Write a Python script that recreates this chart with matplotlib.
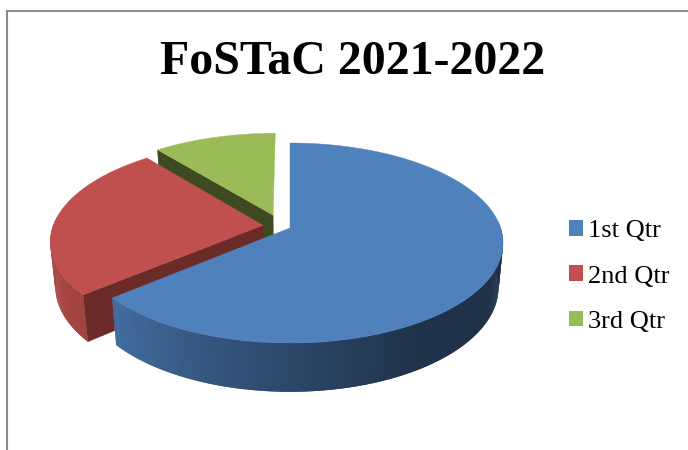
"""
FoSTaC 2021-2022 exploded 3D pie, drawn with patches through a small
perspective projection of the pie disc.
"""

import numpy as np
import matplotlib
matplotlib.use("Agg")
import matplotlib.pyplot as plt
from matplotlib.patches import Polygon, Rectangle

plt.rcParams["font.family"] = ["Liberation Serif", "DejaVu Serif"]

# Data
title = "FoSTaC 2021-2022"
categories = ["1st Qtr", "2nd Qtr", "3rd Qtr"]
values = [63.8, 25.3, 10.9]

# Styles
top_colors = ["#4f81bd", "#c0504d", "#9bbb59"]
cut_colors = ["#27405f", "#6b2b29", "#404a22"]
explode = [0.045, 0.088, 0.122]

# Projection of the disc: pixel anchor, scales, perspective
ANCHOR_X, ANCHOR_Y = 290, 228
SCALE_X, SCALE_Y = 210.6, 97.75
TILT, DEPTH_W, DEPTH_Y = 0.15, 0.021, 44.9


def project(u, v, z=0.0):
    """Disc coordinates (radius 1), z=0 top face, z=1 bottom face -> pixels."""
    w = 1 + TILT * v + DEPTH_W * z
    return ANCHOR_X + SCALE_X * u / w, ANCHOR_Y - (SCALE_Y * v - DEPTH_Y * z) / w


def wall_shade(angle):
    """Brightness of the outer wall by clockwise angle from 12 o'clock."""
    return np.interp(angle, [90, 150, 180, 230, 280], [0.36, 0.40, 0.55, 0.85, 0.92])


def add_poly(ax, xs, ys, color, lw=0.0):
    ax.add_patch(Polygon(np.column_stack([xs, ys]), closed=True, facecolor=color,
                         edgecolor=color, linewidth=lw))


def draw_slice(ax, start, end, ox, oy, top, cut):
    angles = np.linspace(start, end, int(end - start) * 2 + 2)
    rad = np.radians(angles)
    u, v = ox + np.sin(rad), oy + np.cos(rad)
    tx, ty = project(u, v)
    bx, by = project(u, v, 1)

    # outer wall, front half only; quads overlap the next step to hide seams
    base = np.array(matplotlib.colors.to_rgb(top))
    for i in range(len(angles) - 1):
        if not 86 <= angles[i] <= 274:
            continue
        j = min(i + 2, len(angles) - 1)
        shade = wall_shade((angles[i] + angles[i + 1]) / 2)
        add_poly(ax, [tx[i], tx[j], bx[j], bx[i]], [ty[i], ty[j], by[j], by[i]], base * shade)

    # cut faces that look towards the viewer
    for i, normal in ((0, start - 90), (-1, end + 90)):
        if np.cos(np.radians(normal)) < -0.01:
            xs0, ys0 = project(np.array([ox, u[i]]), np.array([oy, v[i]]))
            xs1, ys1 = project(np.array([u[i], ox]), np.array([v[i], oy]), 1)
            add_poly(ax, np.r_[xs0, xs1], np.r_[ys0, ys1], cut, lw=0.3)

    # top face
    ax_, ay_ = project(ox, oy)
    add_poly(ax, np.r_[ax_, tx], np.r_[ay_, ty], top, lw=0.3)


fig = plt.figure(figsize=(6.88, 4.5), dpi=100)
ax = fig.add_axes([0, 0, 1, 1])
ax.set_xlim(0, 688)
ax.set_ylim(450, 0)
ax.axis("off")

# chart frame, open at the right and at the bottom of the crop
ax.plot([7, 7, 690], [452, 10.5, 10.5], color="#8c8c8c", lw=1.5, solid_joinstyle="miter")

ax.text(353, 62, title, ha="center", va="center", fontsize=34.5, fontweight="bold", color="black")

# slices, clockwise from 12 o'clock
total = sum(values)
edges = np.r_[0, np.cumsum(values)] / total * 360
mids = (edges[:-1] + edges[1:]) / 2
dirs = np.column_stack([np.sin(np.radians(mids)), np.cos(np.radians(mids))])
offsets = dirs * np.array(explode)[:, None]
offsets = offsets - offsets[0]  # the first slice sits on the anchor

for i in [2, 1, 0]:
    draw_slice(ax, edges[i], edges[i + 1], offsets[i, 0], offsets[i, 1],
               top_colors[i], cut_colors[i])

handles = [Rectangle((0, 0), 1, 1, facecolor=c, edgecolor="none") for c in top_colors]
ax.legend(handles, categories, loc="center left", bbox_to_anchor=(569 / 688, 1 - 276.5 / 450),
          frameon=False, fontsize=19, handlelength=0.53, handleheight=0.53,
          handletextpad=0.2, labelspacing=0.88, borderpad=0, borderaxespad=0)

fig.savefig("out.png", dpi=100)
